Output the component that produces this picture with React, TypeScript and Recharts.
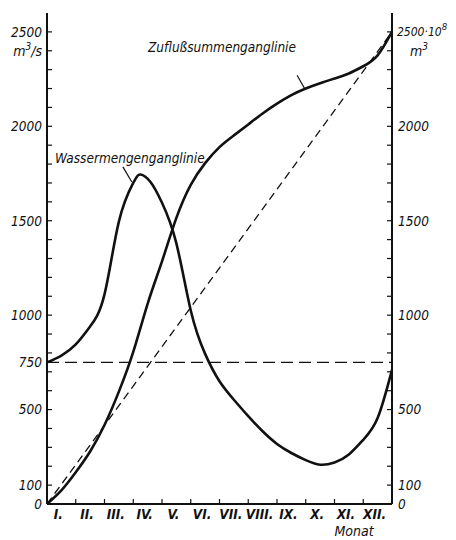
import { ComposedChart, Line, XAxis, YAxis, ReferenceLine, ReferenceDot, Label } from 'recharts'

// Wassermengenganglinie (m³/s, linke Achse)
const wasserMonat = [0, 0.5, 1, 1.5, 2, 2.5, 3, 3.25, 3.6, 4, 4.5, 5, 5.5, 6, 6.5, 7, 7.5, 8, 8.5, 9, 9.5, 10, 10.5, 11, 11.5, 12]
const wasserMenge = [750, 786, 845, 940, 1110, 1495, 1700, 1745, 1705, 1595, 1380, 1025, 795, 650, 552, 465, 385, 318, 270, 232, 208, 220, 262, 340, 455, 710]

// Zuflußsummenganglinie (10^8 m³, rechte Achse)
const summeMonat = [0, 0.5, 1, 1.5, 2, 2.5, 3, 3.5, 4, 4.5, 5, 5.5, 6, 6.5, 7, 7.5, 8, 8.5, 9, 9.5, 10, 10.5, 11, 11.5, 12]
const zuflussSumme = [0, 72, 168, 278, 418, 595, 805, 1060, 1285, 1515, 1690, 1805, 1890, 1952, 2010, 2068, 2120, 2165, 2200, 2228, 2253, 2280, 2318, 2376, 2500]

// mittlere Summenlinie (gestrichelt) und Mittelwasser
const mittelMonat = [0, 12]
const mittelSumme = [0, 2500]
const mittelwasser = 750

const monate = ['I.', 'II.', 'III.', 'IV.', 'V.', 'VI.', 'VII.', 'VIII.', 'IX.', 'X.', 'XI.', 'XII.']
const linksTicks = [0, 100, 200, 300, 400, 500, 600, 700, 750, 800, 900, 1000, 1100, 1200, 1300, 1400, 1500, 1600, 1700, 1800, 1900, 2000, 2100, 2200, 2300, 2400, 2500]
const linksLabels = [0, 100, 500, 750, 1000, 1500, 2000, 2500]
const rechtsTicks = [0, 100, 200, 300, 400, 500, 600, 700, 800, 900, 1000, 1100, 1200, 1300, 1400, 1500, 1600, 1700, 1800, 1900, 2000, 2100, 2200, 2300, 2400, 2500]
const rechtsLabels = [0, 100, 500, 1000, 1500, 2000, 2500]
const monatTicks = [0, 0.5, 1, 1.5, 2, 2.5, 3, 3.5, 4, 4.5, 5, 5.5, 6, 6.5, 7, 7.5, 8, 8.5, 9, 9.5, 10, 10.5, 11, 11.5, 12]

const wasserData = wasserMonat.map((m, i) => ({ m, q: wasserMenge[i] }))
const summeData = summeMonat.map((m, i) => ({ m, s: zuflussSumme[i] }))
const mittelData = mittelMonat.map((m, i) => ({ m, s: mittelSumme[i] }))

const FONT = "'DejaVu Sans Condensed', 'DejaVu Sans', sans-serif"
const INK = '#111'

const txt = { fontFamily: FONT, fontStyle: 'italic' as const, fill: INK }

function LeftTick({ x, y, payload }: any) {
  const v = payload.value
  return (
    <g>
      <line x1={x} x2={x + 5} y1={y} y2={y} stroke={INK} strokeWidth={1.2} />
      {linksLabels.includes(v) && (
        <text x={x - 5} y={y} dy="0.36em" textAnchor="end" fontSize={13.5} {...txt}>{v}</text>
      )}
      {v === 2500 && (
        <text x={x - 5} y={y + 24} textAnchor="end" fontSize={14} {...txt}>
          m<tspan dy={-6} fontSize={10}>3</tspan><tspan dy={6}>/s</tspan>
        </text>
      )}
    </g>
  )
}

function RightTick({ x, y, payload }: any) {
  const v = payload.value
  return (
    <g>
      <line x1={x} x2={x - 5} y1={y} y2={y} stroke={INK} strokeWidth={1.2} />
      {rechtsLabels.includes(v) && v !== 2500 && (
        <text x={x + 6} y={y} dy="0.36em" textAnchor="start" fontSize={13.5} {...txt}>{v}</text>
      )}
      {v === 2500 && (
        <text x={x + 5} y={y} dy="0.36em" textAnchor="start" fontSize={12} {...txt}>
          2500·10<tspan dy={-6} fontSize={9.5}>8</tspan>
        </text>
      )}
      {v === 2500 && (
        <text x={x + 18} y={y + 24} textAnchor="start" fontSize={14} {...txt}>
          m<tspan dy={-6} fontSize={10}>3</tspan>
        </text>
      )}
    </g>
  )
}

function MonthTick({ x, y, payload }: any) {
  const v = payload.value
  if (Number.isInteger(v)) {
    if (v === 0 || v === 12) return <g />
    return <line x1={x} x2={x} y1={y} y2={y - 5} stroke={INK} strokeWidth={1.2} />
  }
  return (
    <text x={x - 3} y={y + 15} textAnchor="middle" fontSize={13.5} fontWeight="bold" {...txt}>
      {monate[Math.floor(v)]}
    </text>
  )
}

function Annotation({ viewBox, text, anchor }: any) {
  const x = viewBox.x + (viewBox.width || 0) / 2
  const y = viewBox.y + (viewBox.height || 0) / 2
  return (
    <text x={x} y={y} textAnchor={anchor} fontSize={13.5} {...txt}>{text}</text>
  )
}

export default function App() {
  return (
    <ComposedChart width={440} height={532} margin={{ top: 5, right: 0, bottom: 0, left: 0 }}>
      <XAxis
        type="number" dataKey="m" domain={[0, 12]} ticks={monatTicks} interval={0}
        height={36} tickSize={0} tickMargin={0} tickLine={false}
        axisLine={{ stroke: INK, strokeWidth: 2 }} tick={<MonthTick />} allowDataOverflow
      >
        <Label
          content={({ viewBox }: any) => (
            <text x={viewBox.x + viewBox.width - 38} y={viewBox.y + 32} textAnchor="middle" fontSize={14} {...txt}>Monat</text>
          )}
        />
      </XAxis>
      <XAxis xAxisId="top" orientation="top" type="number" domain={[0, 12]} height={0} tick={false} tickLine={false}
        axisLine={{ stroke: INK, strokeWidth: 1.3 }} />
      <YAxis
        yAxisId="l" orientation="left" type="number" domain={[0, 2600]} ticks={linksTicks} interval={0}
        width={39} tickSize={0} tickMargin={0} tickLine={false}
        axisLine={{ stroke: INK, strokeWidth: 2 }} tick={<LeftTick />}
      />
      <YAxis
        yAxisId="r" orientation="right" type="number" domain={[0, 2600]} ticks={rechtsTicks} interval={0}
        width={56} tickSize={0} tickMargin={0} tickLine={false}
        axisLine={{ stroke: INK, strokeWidth: 2 }} tick={<RightTick />}
      />

      <ReferenceLine yAxisId="l" y={mittelwasser} stroke={INK} strokeWidth={1.4} strokeDasharray="12 6" />

      <Line yAxisId="r" data={mittelData} dataKey="s" type="linear" stroke={INK} strokeWidth={1.3}
        strokeDasharray="8 5" dot={false} isAnimationActive={false} />
      <Line yAxisId="l" data={wasserData} dataKey="q" type="natural" stroke={INK} strokeWidth={2.6}
        dot={false} isAnimationActive={false} />
      <Line yAxisId="r" data={summeData} dataKey="s" type="natural" stroke={INK} strokeWidth={2.6}
        dot={false} isAnimationActive={false} />

      {/* Beschriftungen mit Hinweislinien */}
      <ReferenceLine yAxisId="r" segment={[{ x: 8.7, y: 2270 }, { x: 8.95, y: 2203 }]} stroke={INK} strokeWidth={1.2} />
      <ReferenceDot yAxisId="r" x={8.66} y={2393} r={0} fill="none" stroke="none">
        <Label content={(p: any) => <Annotation {...p} text="Zuflußsummenganglinie" anchor="end" />} />
      </ReferenceDot>
      <ReferenceLine yAxisId="l" segment={[{ x: 2.64, y: 1785 }, { x: 2.95, y: 1705 }]} stroke={INK} strokeWidth={1.2} />
      <ReferenceDot yAxisId="l" x={0.28} y={1806} r={0} fill="none" stroke="none">
        <Label content={(p: any) => <Annotation {...p} text="Wassermengenganglinie" anchor="start" />} />
      </ReferenceDot>
    </ComposedChart>
  )
}
